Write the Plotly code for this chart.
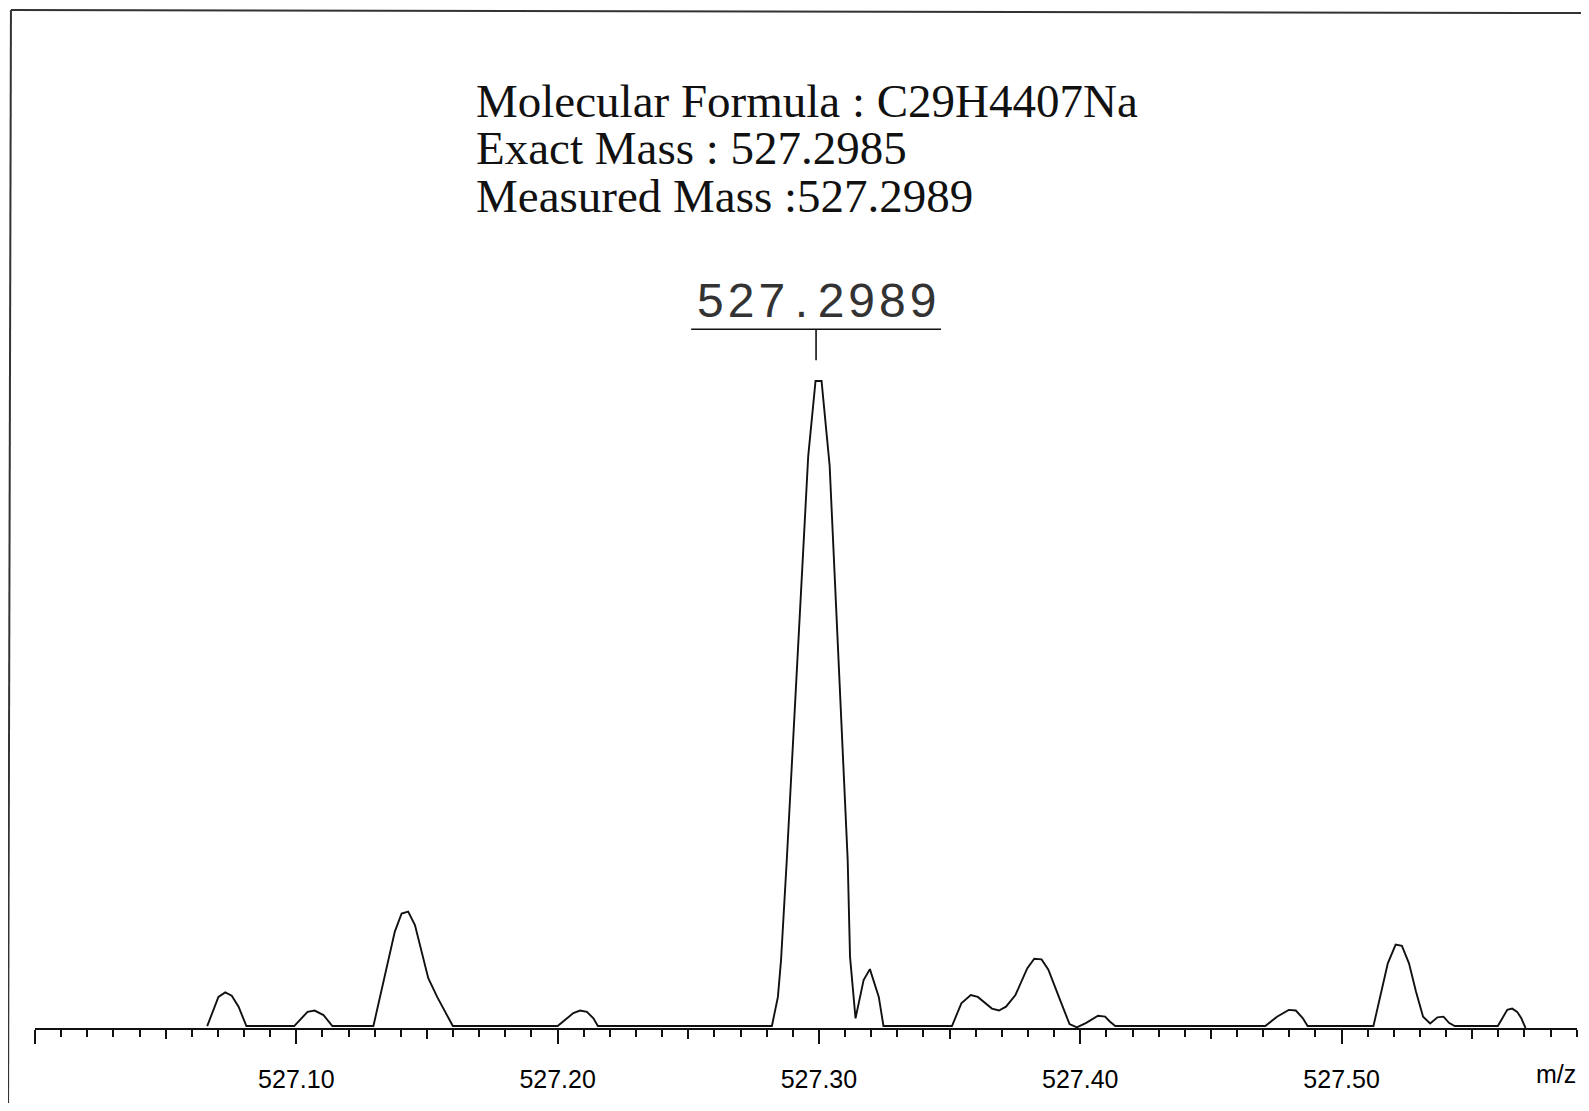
import plotly.graph_objects as go

# ---- data ----
mz = [
    527.0659, 527.0702, 527.0728, 527.0753, 527.0779, 527.0809,
    527.0992, 527.1043, 527.1070, 527.1104, 527.1138,
    527.1295, 527.1377, 527.1403, 527.1428, 527.1454, 527.1505, 527.1539, 527.1599,
    527.2000, 527.2060, 527.2086, 527.2112, 527.2137, 527.2154,
    527.2820, 527.2843, 527.2855, 527.2877, 527.2959, 527.2987, 527.3010, 527.3041,
    527.3110, 527.3119, 527.3140, 527.3171, 527.3195, 527.3229, 527.3247,
    527.3509, 527.3545, 527.3581, 527.3608, 527.3662, 527.3689, 527.3716, 527.3752,
    527.3797, 527.3824, 527.3852, 527.3878, 527.3923, 527.3959, 527.3987, 527.4023,
    527.4068, 527.4095, 527.4113, 527.4134,
    527.4708, 527.4753, 527.4798, 527.4825, 527.4852, 527.4870,
    527.5122, 527.5177, 527.5207, 527.5231, 527.5258, 527.5285, 527.5312, 527.5339,
    527.5367, 527.5390, 527.5411, 527.5433,
    527.5598, 527.5634, 527.5653, 527.5672, 527.5688, 527.5704,
]
intensity = [
    0.3, 4.8, 5.5, 5.0, 3.3, 0.3,
    0.3, 2.5, 2.7, 2.0, 0.3,
    0.3, 14.9, 17.7, 18.0, 15.9, 7.7, 4.8, 0.3,
    0.3, 2.3, 2.7, 2.5, 1.5, 0.3,
    0.3, 4.8, 10.5, 26.0, 88.4, 100.0, 100.0, 86.9,
    26.0, 11.0, 1.5, 7.4, 9.1, 4.8, 0.3,
    0.3, 3.8, 5.1, 4.8, 3.0, 2.7, 3.3, 5.1,
    9.2, 10.7, 10.6, 9.0, 4.3, 0.6, 0.1, 0.8,
    1.9, 1.75, 1.0, 0.3,
    0.3, 1.75, 2.8, 2.7, 1.5, 0.3,
    0.3, 10.0, 12.9, 12.7, 10.0, 5.6, 1.75, 0.7,
    1.65, 1.75, 0.8, 0.3,
    0.3, 2.8, 3.0, 2.5, 1.5, 0.0,
]

major_ticks = [527.00, 527.10, 527.20, 527.30, 527.40, 527.50]
major_labels = ["", "527.10", "527.20", "527.30", "527.40", "527.50"]
mid_ticks = [527.05, 527.15, 527.25, 527.35, 527.45, 527.55]

peak_label = "527.2989"
peak_mz = 527.2989
info_lines = [
    "Molecular Formula : C29H4407Na",
    "Exact Mass : 527.2985",
    "Measured Mass :527.2989",
]

x_range = [527.0, 527.5901]
y_range = [0, 155.8]

fig = go.Figure()
fig.add_trace(go.Scatter(
    x=mz, y=intensity, mode="lines",
    line=dict(color="#111111", width=1.9, shape="linear"),
    hoverinfo="skip", showlegend=False,
))
# invisible trace on overlay axis for the mid-length ticks
fig.add_trace(go.Scatter(
    x=[x_range[0]], y=[0], xaxis="x2", mode="markers",
    marker=dict(opacity=0), hoverinfo="skip", showlegend=False,
))

tick_font = dict(family="Liberation Sans, Arial, sans-serif", size=25, color="#000000")

# page body adds an 8px margin, so the figure is 16px smaller than the window
fig.update_layout(
    width=1581, height=1095,
    margin=dict(l=27, r=12, t=12, b=75, autoexpand=False),
    paper_bgcolor="white", plot_bgcolor="white",
    xaxis=dict(
        range=x_range, showgrid=False, zeroline=False, automargin=False,
        showline=True, linecolor="#111111", linewidth=2,
        tickmode="array", tickvals=major_ticks, ticktext=major_labels,
        ticks="outside", ticklen=14, tickwidth=2, tickcolor="#111111",
        tickfont=tick_font, ticklabelstandoff=14,
        minor=dict(tickmode="linear", tick0=527.0, dtick=0.01,
                   ticks="outside", ticklen=7, tickwidth=1.6, tickcolor="#111111"),
    ),
    xaxis2=dict(
        range=x_range, overlaying="x", anchor="y", side="bottom", automargin=False,
        showgrid=False, zeroline=False, showline=False,
        tickmode="array", tickvals=mid_ticks, showticklabels=False,
        ticks="outside", ticklen=10, tickwidth=1.6, tickcolor="#111111",
    ),
    yaxis=dict(range=y_range, visible=False, showgrid=False, zeroline=False),
)

# info text block
info_font = dict(family="Liberation Serif, Times New Roman, serif", size=47, color="#111111")
for i, line in enumerate(info_lines):
    fig.add_annotation(
        text=line, xref="paper", yref="paper",
        x=0.2848, y=0.9197 - i * 0.0471,
        xanchor="left", yanchor="middle", showarrow=False, font=info_font,
    )

# peak label (spaced digits) with underline and marker tick
peak_max = max(intensity)
spaced = ""
for i, ch in enumerate(peak_label):
    if i > 0:
        spaced += "\u2009" if (ch == "." or peak_label[i - 1] == ".") else "\u200a"
    spaced += ch
fig.add_annotation(
    text=spaced, x=peak_mz, y=peak_max * 1.124, xref="x", yref="y",
    xanchor="center", yanchor="middle", showarrow=False,
    font=dict(family="Liberation Sans, Arial, sans-serif", size=48, color="#333333"),
)
fig.add_shape(type="line", xref="x", yref="y",
              x0=peak_mz - 0.0478, x1=peak_mz + 0.0478,
              y0=peak_max * 1.080, y1=peak_max * 1.080,
              line=dict(color="#111111", width=1.6))
fig.add_shape(type="line", xref="x", yref="y",
              x0=peak_mz, x1=peak_mz,
              y0=peak_max * 1.080, y1=peak_max * 1.032,
              line=dict(color="#111111", width=1.6))

# axis unit label
fig.add_annotation(
    text="m/z", xref="paper", yref="paper", x=0.9864, y=-0.0460,
    xanchor="center", yanchor="middle", showarrow=False, font=tick_font,
)

# scanned page frame (left and top edges, slightly skewed like the scan)
fig.add_shape(type="line", xref="paper", yref="paper",
              x0=-0.0156, x1=-0.0175, y0=1.0099, y1=-0.09,
              line=dict(color="#333333", width=2))
fig.add_shape(type="line", xref="paper", yref="paper",
              x0=-0.0156, x1=1.01, y0=1.0099, y1=1.0069,
              line=dict(color="#333333", width=2))

fig.write_html("out.html")
